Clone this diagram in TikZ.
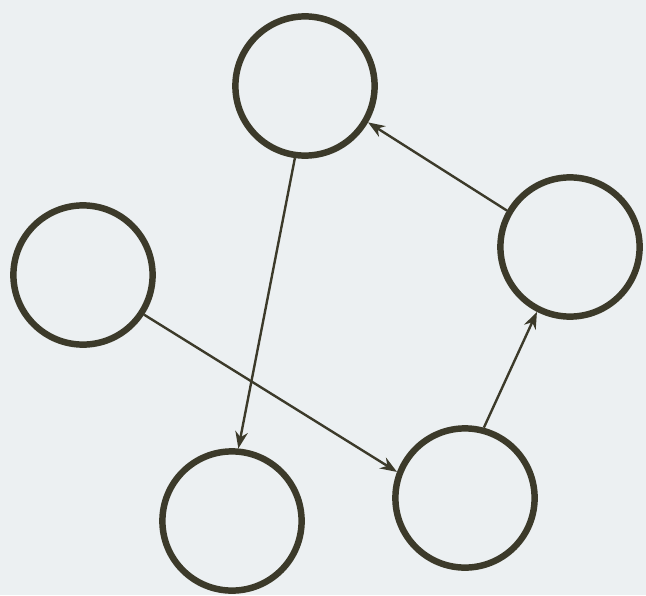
\documentclass[tikz,border=0pt]{standalone}
\usepackage{tikz}
\usetikzlibrary{arrows.meta}
\definecolor{ringcol}{RGB}{60,58,42}
\definecolor{paper}{RGB}{236,240,242}
\tikzset{
  ring/.style={circle, draw=ringcol, line width=4.6pt, minimum size=3.48cm, inner sep=0pt, outer sep=2.3pt},
  garrow/.style={-{Stealth[length=12pt,width=9pt]}, line width=1.7pt, draw=ringcol}
}

\begin{document}
\begin{tikzpicture}[x=1cm, y=1cm]
    \fill[paper] (0,0) rectangle (16.15,-14.875);
    \useasboundingbox (0,0) rectangle (16.15,-14.875);
    \node[ring] (top) at (7.625,-2.15) {};
    \node[ring] (left) at (2.075,-6.875) {};
    \node[ring] (right) at (14.25,-6.175) {};
    \node[ring] (botl) at (5.8,-13.025) {};
    \node[ring] (botr) at (11.625,-12.45) {};
    \draw[garrow] (top.262) -- (botl.85);
    \draw[garrow] (left.-33) -- (botr.159);
    \draw[garrow] (botr.75) -- (right.243);
    \draw[garrow] (right.150) -- (top.-30);
  \end{tikzpicture}
\end{document}
